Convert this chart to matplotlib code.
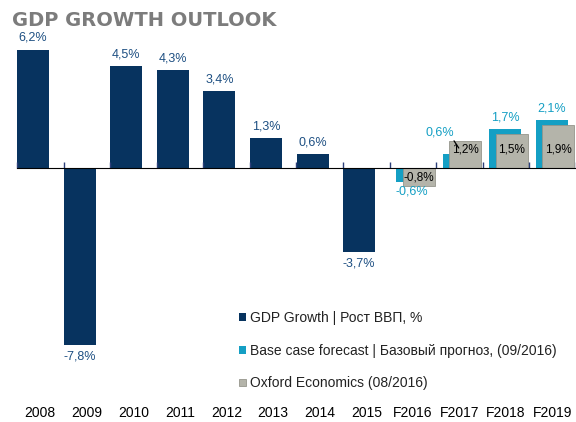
import matplotlib
matplotlib.use('Agg')
import matplotlib.pyplot as plt
import numpy as np

plt.rcParams['font.family'] = ['Liberation Sans', 'DejaVu Sans']

# Данные
years = ['2008', '2009', '2010', '2011', '2012', '2013', '2014', '2015',
         'F2016', 'F2017', 'F2018', 'F2019']
gdp = [6.2, -7.8, 4.5, 4.3, 3.4, 1.3, 0.6, -3.7]
base_case = [-0.6, 0.6, 1.7, 2.1]
oxford = [-0.8, 1.2, 1.5, 1.9]

gdp_label = 'GDP Growth | Рост ВВП, %'
base_label = 'Base case forecast | Базовый прогноз, (09/2016)'
oxford_label = 'Oxford Economics (08/2016)'

navy = '#07335f'
cyan = '#149fc4'
grey = '#b4b4aa'

def fmt(v):
    return f"{v:.1f}%".replace('.', ',')

fig = plt.figure(figsize=(5.76, 4.22), dpi=100)
ax = fig.add_axes([17 / 576, 24 / 422, 559 / 576, 348.5 / 422])

ymin, ymax = -10.13, 5.22
ax.set_xlim(-0.5, len(years) - 0.5)
ax.set_ylim(ymin, ymax)

w = 0.687
x_gdp = np.arange(len(gdp))
x_fc = np.arange(len(gdp), len(years))

b1 = ax.bar(x_gdp - 0.5 + w / 2, gdp, width=w, color=navy)
b2 = ax.bar(x_fc - 0.36 + w / 2, base_case, width=w, color=cyan)
b3 = ax.bar(x_fc - 0.22 + w / 2, oxford, width=w, color=grey,
            edgecolor='#95958c', linewidth=0.6)

# подписи ВВП
for x, v in zip(x_gdp - 0.5 + w / 2, gdp):
    y = min(v, ymax)
    ax.annotate(fmt(v), (x, y), xytext=(0, 4 if v > 0 else -4),
                textcoords='offset points', ha='center',
                va='bottom' if v > 0 else 'top', fontsize=9,
                color='#1d4f82', annotation_clip=False)

# подписи базового прогноза
for i, (x, v) in enumerate(zip(x_fc - 0.36 + w / 2, base_case)):
    if i == 1:
        # выноска уходит внутрь серого столбца
        ax.annotate(fmt(v), (x, v + 0.28), xytext=(-14, 11.5),
                    textcoords='offset points', ha='center', va='center',
                    fontsize=9, color=cyan, zorder=4,
                    arrowprops=dict(arrowstyle='-', color='black', lw=0.9,
                                    shrinkA=0, shrinkB=0,
                                    relpos=(0.95, 0.0)))
    else:
        ax.annotate(fmt(v), (x, v), xytext=(0, 4 if v > 0 else -3),
                    textcoords='offset points', ha='center',
                    va='bottom' if v > 0 else 'top', fontsize=9, color=cyan)

# подписи Oxford Economics
for x, v in zip(x_fc - 0.22 + w / 2, oxford):
    ax.annotate(fmt(v), (x, 0), xytext=(0, 13 if v > 0 else -7),
                textcoords='offset points', ha='center', va='center',
                fontsize=8.5, color='black', zorder=5)

# нулевая линия с делениями
zero_loc = (0 - ymin) / (ymax - ymin)
sec = ax.secondary_xaxis(zero_loc)
sec.set_zorder(3)
sec.set_xticks(np.arange(len(years) + 1) - 0.5)
sec.set_xticklabels([])
sec.tick_params(length=4, width=1, color='#2b3f7a', direction='out')
sec.spines['bottom'].set_color('#2b3f7a')
sec.spines['bottom'].set_linewidth(1.3)

ax.set_xticks(np.arange(len(years)))
ax.set_xticklabels(years, fontsize=10)
ax.tick_params(axis='x', length=0, pad=6)
ax.set_yticks([])
for s in ax.spines.values():
    s.set_visible(False)

ax.legend([b1, b2, b3], [gdp_label, base_label, oxford_label],
          loc='upper left', bbox_to_anchor=(232 / 576, 1 - 304 / 422),
          bbox_transform=fig.transFigure, frameon=False, fontsize=10,
          handlelength=0.5, handleheight=0.5, handletextpad=0.3,
          labelspacing=1.35, borderpad=0, labelcolor='#222222')

fig.text(12 / 576, 1 - 20 / 422, 'GDP GROWTH OUTLOOK', fontsize=14,
         fontweight='heavy', color='#7c7c7c', va='center',
         family='DejaVu Sans')

fig.savefig('out.png', dpi=100)
